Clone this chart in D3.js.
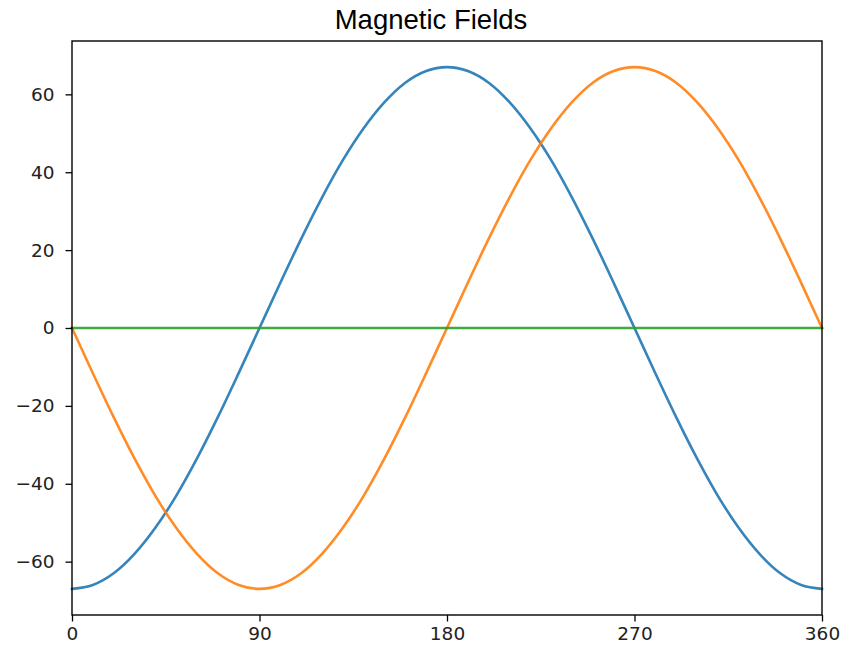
<!DOCTYPE html>
<html><head><meta charset="utf-8">
<script src="https://cdn.jsdelivr.net/npm/d3@7"></script>
<style>body{margin:0;background:#fff}</style>
</head><body>
<svg id="c" width="855" height="651"></svg>
<script>
const angles = [0,10,20,30,40,50,60,70,80,90,100,110,120,130,140,150,160,170,180,190,200,210,220,230,240,250,260,270,280,290,300,310,320,330,340,350,360];
const fieldA = [-67,-66,-63,-58,-51.3,-43.1,-33.5,-22.9,-11.6,0,11.6,22.9,33.5,43.1,51.3,58,63,66,67,66,63,58,51.3,43.1,33.5,22.9,11.6,0,-11.6,-22.9,-33.5,-43.1,-51.3,-58,-63,-66,-67];
const fieldB = [0,-11.6,-22.9,-33.5,-43.1,-51.3,-58,-63,-66,-67,-66,-63,-58,-51.3,-43.1,-33.5,-22.9,-11.6,0,11.6,22.9,33.5,43.1,51.3,58,63,66,67,66,63,58,51.3,43.1,33.5,22.9,11.6,0];
const fieldC = [0,0,0,0,0,0,0,0,0,0,0,0,0,0,0,0,0,0,0,0,0,0,0,0,0,0,0,0,0,0,0,0,0,0,0,0,0];
const xTicks = [0,90,180,270,360];
const yTicks = [-60,-40,-20,0,20,40,60];
const colors = ["#1f77b4","#ff7f0e","#2ca02c"];
const title = "Magnetic Fields";

const svg = d3.select("#c");
const L=72,R=822,T=41,B=615;
const x = d3.scaleLinear().domain([0,360]).range([L,R]);
const y = d3.scaleLinear().domain([-73.7,73.7]).range([B,T]);

const line = d3.line().x((d,i)=>x(angles[i])).y(d=>y(d)).curve(d3.curveMonotoneX);
[fieldA,fieldB,fieldC].forEach((s,k)=>{
  svg.append("path").attr("d",line(s)).attr("fill","none")
    .attr("stroke",colors[k]).attr("stroke-width",2.6).attr("stroke-linecap","square")
    .attr("stroke-opacity",0.9);
});

const font = "'DejaVu Sans', sans-serif";
const gx = svg.append("g").attr("transform",`translate(0,${B})`)
  .call(d3.axisBottom(x).tickValues(xTicks).tickFormat(d3.format("d")).tickSize(6.5).tickPadding(5));
const gy = svg.append("g").attr("transform",`translate(${L},0)`)
  .call(d3.axisLeft(y).tickValues(yTicks).tickFormat(d=>d<0?"\u2212"+Math.abs(d):d).tickSize(6.5).tickPadding(11));
[gx,gy].forEach(g=>{
  g.select(".domain").remove();
  g.selectAll("line").attr("stroke","#000").attr("stroke-width",1.3);
  g.selectAll("text").attr("font-family",font).attr("font-size",18.5).attr("fill","#222");
});
svg.append("rect").attr("x",L).attr("y",T).attr("width",R-L).attr("height",B-T)
  .attr("fill","none").attr("stroke","#000").attr("stroke-width",1.4);

svg.append("text").attr("x",431).attr("y",29).attr("text-anchor","middle")
  .attr("font-family","'Liberation Sans', Arial, sans-serif").attr("font-size",27.5).text(title);
</script>
</body></html>
